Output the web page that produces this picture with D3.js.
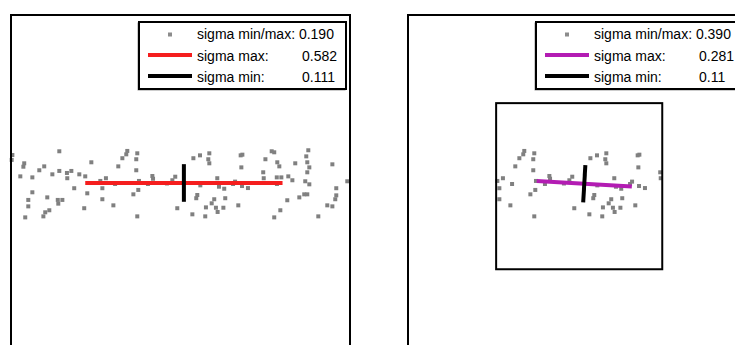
<!DOCTYPE html>
<html lang="en">
<head>
<meta charset="UTF-8">
<title>sigma min/max</title>
<script src="https://d3js.org/d3.v7.min.js"></script>
<style>
  body { margin: 0; background: #fff; }
  svg text { font-family: "Liberation Sans", Arial, sans-serif; font-size: 14px; fill: #000; }
</style>
</head>
<body>
<svg width="735" height="345"></svg>
<script>
// point cloud (data units, frame spans -1..1)
const pointX = [-0.992, -0.996, -0.715, -0.922, -0.927, -0.804, -0.833, -0.945, -0.874, -0.715,
  -0.756, -0.670, -0.644, -0.668, -0.597, -0.562, -0.526, -0.367, -0.343, -0.627,
  -0.874, -0.898, -0.898, -0.786, -0.724, -0.697, -0.721, -0.774, -0.798, -0.809,
  -0.916, -0.550, -0.568, -0.473, -0.440, -0.461, -0.461, -0.396, -0.314, -0.320,
  -0.255, -0.261, -0.261, -0.166, -0.162, -0.245, -0.249, -0.278, -0.031, -0.048,
  -0.255, -0.019, 0.076, 0.115, 0.170, 0.164, 0.170, 0.117, 0.217, 0.227,
  0.258, 0.099, 0.093, 0.199, 0.264, 0.184, 0.150, 0.209, 0.253, 0.219,
  0.070, 0.146, 0.341, 0.355, 0.365, 0.359, 0.322, 0.363, 0.398, 0.538,
  0.553, 0.501, 0.571, 0.583, 0.488, 0.491, 0.568, 0.595, 0.636, 0.660,
  0.677, 0.754, 0.742, 0.748, 0.760, 0.748, 0.736, 0.760, 0.896, 0.984,
  0.919, 0.919, 0.913, 0.866, 0.896, 0.813, 0.701, 0.730, 0.748, 0.630,
  0.589, 0.553, 0.516, 0.569, -0.386, -0.192, -0.080, 0.310];
const pointY = [0.174, 0.145, 0.196, 0.125, 0.105, 0.107, 0.084, 0.048, 0.042, 0.080,
  0.060, 0.068, 0.080, 0.037, 0.060, 0.048, 0.131, 0.107, 0.155, -0.022,
  -0.046, -0.091, -0.129, -0.076, -0.091, -0.091, -0.113, -0.152, -0.164, -0.188,
  -0.194, -0.052, -0.140, 0.021, 0.037, -0.022, -0.087, -0.123, 0.198, 0.178,
  0.184, 0.149, 0.084, 0.050, 0.034, 0.021, -0.032, -0.058, 0.046, 0.025,
  -0.188, -0.140, 0.155, 0.172, 0.184, 0.149, 0.125, -0.005, 0.037, -0.013,
  -0.025, -0.062, -0.081, -0.087, -0.081, -0.111, -0.135, -0.137, -0.137, -0.162,
  -0.176, -0.188, -0.123, 0.172, 0.176, 0.101, 0.017, -0.009, -0.021, 0.196,
  0.190, 0.149, 0.131, 0.107, 0.072, 0.037, 0.042, 0.042, 0.048, 0.025,
  0.125, 0.202, 0.166, 0.131, 0.101, 0.072, 0.019, 0.001, 0.119, 0.019,
  -0.022, -0.064, -0.087, -0.123, -0.129, -0.188, -0.076, -0.058, -0.058, -0.093,
  -0.152, -0.194, 0.009, 0.003, 0.003, 0.003, 0.006, 0.003];

// right panel keeps only the points inside this box
const boxX = [-0.48, 0.5];
const boxY = [-0.5, 0.48];

// principal axes per panel
const centerX = [0.02, 0.04];
const centerY = [0.009, 0.004];
const angleDeg = [0, -3.3];
const sigmaMax = [0.582, 0.281];
const sigmaMin = [0.111, 0.11];

const legendLabels = ["sigma min/max:", "sigma max:", "sigma min:"];
const leftValues = ["0.190", "0.582", "0.111"];
const rightValues = ["0.390", "0.281", "0.11"];
const maxColors = ["#f51e1e", "#b31cb3"];

const frameSize = 339, frameTop = 15;
const svg = d3.select("svg");

function drawPanel(i, x0, values, withBox) {
  const x = d3.scaleLinear().domain([-1, 1]).range([x0, x0 + frameSize]);
  const y = d3.scaleLinear().domain([-1, 1]).range([frameTop + frameSize, frameTop]);
  const g = svg.append("g");

  let data = pointX.map((v, k) => ({ x: v, y: pointY[k] }));
  if (withBox) {
    data = data.filter(d => d.x >= boxX[0] && d.x < boxX[1] && d.y >= boxY[0] && d.y <= boxY[1]);
  }

  g.selectAll(".pt").data(data).enter().append("rect")
    .attr("class", "pt")
    .attr("x", d => x(d.x) - 2)
    .attr("y", d => y(d.y) - 2)
    .attr("width", 4).attr("height", 4)
    .attr("fill", "#808080");

  // axes lines
  const a = angleDeg[i] * Math.PI / 180;
  const cx = centerX[i], cy = centerY[i];
  const c = Math.cos(a), s = Math.sin(a);
  g.append("line")
    .attr("x1", x(cx - sigmaMax[i] * c)).attr("y1", y(cy - sigmaMax[i] * s))
    .attr("x2", x(cx + sigmaMax[i] * c)).attr("y2", y(cy + sigmaMax[i] * s))
    .attr("stroke", maxColors[i]).attr("stroke-width", 4);
  g.append("line")
    .attr("x1", x(cx + sigmaMin[i] * s)).attr("y1", y(cy - sigmaMin[i] * c))
    .attr("x2", x(cx - sigmaMin[i] * s)).attr("y2", y(cy + sigmaMin[i] * c))
    .attr("stroke", "#000").attr("stroke-width", 4);

  if (withBox) {
    g.append("rect")
      .attr("x", x(boxX[0])).attr("y", y(boxY[1]))
      .attr("width", x(boxX[1]) - x(boxX[0]))
      .attr("height", y(boxY[0]) - y(boxY[1]))
      .attr("fill", "none").attr("stroke", "#000").attr("stroke-width", 2);
  }

  // frame
  g.append("rect")
    .attr("x", x0).attr("y", frameTop).attr("width", frameSize).attr("height", frameSize)
    .attr("fill", "none").attr("stroke", "#000").attr("stroke-width", 2);

  // legend
  const lg = g.append("g").attr("transform", `translate(${x0 + 128},22)`);
  lg.append("rect").attr("x", -1).attr("y", 1).attr("width", 207).attr("height", 67)
    .attr("fill", "none").attr("stroke", "#999").attr("stroke-width", 1);
  lg.append("rect").attr("width", 207).attr("height", 67)
    .attr("fill", "#fff").attr("stroke", "#000").attr("stroke-width", 2);
  lg.append("rect").attr("x", 29).attr("y", 10.5).attr("width", 4).attr("height", 4)
    .attr("fill", "#8c8c8c");
  lg.append("line").attr("x1", 9).attr("x2", 53).attr("y1", 33).attr("y2", 33)
    .attr("stroke", maxColors[i]).attr("stroke-width", 4);
  lg.append("line").attr("x1", 9).attr("x2", 53).attr("y1", 54).attr("y2", 54)
    .attr("stroke", "#000").attr("stroke-width", 4);
  const baselines = [16.5, 39, 60];
  legendLabels.forEach((t, k) => {
    if (k === 0) {
      lg.append("text").attr("x", 58).attr("y", baselines[k]).text(t + " " + values[k]);
    } else {
      lg.append("text").attr("x", 58).attr("y", baselines[k]).text(t);
      lg.append("text").attr("x", 163).attr("y", baselines[k]).text(values[k]);
    }
  });
}

drawPanel(0, 11, leftValues, false);
drawPanel(1, 408, rightValues, true);
</script>
</body>
</html>
